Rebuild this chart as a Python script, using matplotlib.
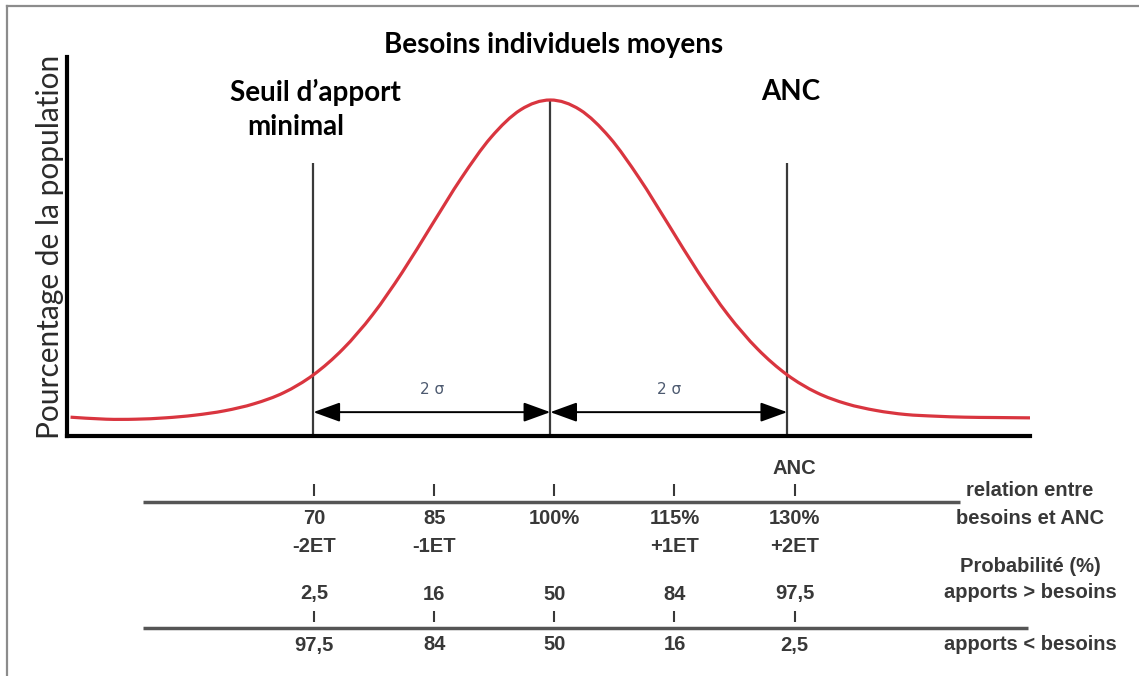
import matplotlib.pyplot as plt
from matplotlib.lines import Line2D
from matplotlib.path import Path
from matplotlib.patches import PathPatch

# curve (x in standard deviations, y in % of peak height)
curve_x = [-4.05, -3.75, -3.5, -3.25, -3.0, -2.75, -2.5, -2.25, -2.0, -1.75, -1.5, -1.25, -1.0,
           -0.75, -0.5, -0.25, 0.0, 0.25, 0.5, 0.75, 1.0, 1.25, 1.5, 1.75, 2.0, 2.25, 2.5,
           2.75, 3.0, 3.25, 3.5, 3.75, 4.05]
curve_y = [5.6, 5.0, 5.0, 5.4, 6.2, 7.5, 9.6, 12.9, 18.2, 25.9, 36.1, 48.7, 62.8,
           76.8, 88.9, 97.1, 100.0, 97.1, 88.9, 76.8, 62.8, 48.7, 36.1, 25.9, 18.2, 12.9, 9.6,
           7.6, 6.4, 5.9, 5.6, 5.5, 5.4]

# vertical markers: -2 sigma (seuil), mean, +2 sigma (ANC)
marker_x = [-2, 0, 2]
marker_top = [81.3, 100.0, 81.3]

# table under the chart
pct_values = [70, 85, 100, 115, 130]
pct_labels = ["70", "85", "100%", "115%", "130%"]
et_labels = ["-2ET", "-1ET", "", "+1ET", "+2ET"]
prob_above = ["2,5", "16", "50", "84", "97,5"]
prob_below = ["97,5", "84", "50", "16", "2,5"]


def smooth_path(xs, ys):
    # catmull-rom through the read points, drawn as cubic bezier segments
    pts = list(zip(xs, ys))
    verts = [pts[0]]
    codes = [Path.MOVETO]
    n = len(pts)
    for i in range(n - 1):
        p0 = pts[max(i - 1, 0)]
        p1 = pts[i]
        p2 = pts[i + 1]
        p3 = pts[min(i + 2, n - 1)]
        c1 = (p1[0] + (p2[0] - p0[0]) / 6, p1[1] + (p2[1] - p0[1]) / 6)
        c2 = (p2[0] - (p3[0] - p1[0]) / 6, p2[1] - (p3[1] - p1[1]) / 6)
        verts += [c1, c2, p2]
        codes += [Path.CURVE4] * 3
    return Path(verts, codes)


W, H = 1139, 676
fig = plt.figure(figsize=(W / 100, H / 100), dpi=100)

# main chart axes (pixel box 67..1030 x 57..436)
ax = fig.add_axes([67 / W, (H - 436) / H, 963 / W, 379 / H])
ax.set_xlim(-4.08, 4.05)
ax.set_ylim(0, 112.8)
ax.add_patch(PathPatch(smooth_path(curve_x, curve_y), facecolor="none",
                       edgecolor="#d9353f", lw=2.3, zorder=3))
ax.vlines(marker_x, 0, marker_top, color="#3a3a3a", lw=1.6, zorder=2)

for a, b in [(-2, 0), (0, 2)]:
    ax.annotate("", xy=(b, 7.1), xytext=(a, 7.1),
                arrowprops=dict(arrowstyle="<|-|>,head_length=1.1,head_width=0.4",
                                color="black", lw=1.4, mutation_scale=15,
                                shrinkA=0, shrinkB=0))
    ax.text((a + b) / 2, 13.7, "2 σ", ha="center", va="center", fontsize=11,
            color="#4d5a70", family="DejaVu Sans")

for s in ["top", "right"]:
    ax.spines[s].set_visible(False)
for s in ["left", "bottom"]:
    ax.spines[s].set_linewidth(3)
    ax.spines[s].set_color("black")
ax.set_xticks([])
ax.set_yticks([])
ax.set_ylabel("Pourcentage de la population", fontsize=21.5, family="Lato",
              color="#2b2b2b", labelpad=2)

bold = dict(family="Lato", fontweight="bold", fontsize=20, color="black",
            ha="center", va="center", clip_on=False)
ax.text(0.03, 116.4, "Besoins individuels moyens", **bold)
ax.text(-1.98, 102.4, "Seuil d\u2019apport", **bold)
ax.text(-2.15, 92.0, "minimal", **bold)
ax.text(2.03, 102.4, "ANC", **bold)

# table axes, x in % of needs, y in pixels
tax = fig.add_axes([0, 0, 1, 236 / H])
tax.set_xlim(30.79, 173.0)
tax.set_ylim(676, 440)
tax.axis("off")

tcol = "#383838"
tfont = dict(family="Liberation Sans", fontweight="bold", fontsize=14.5, color=tcol,
             ha="center", va="center")
tax.hlines(501.5, 48.6, 150.7, color="#555555", lw=2.5)
tax.hlines(627.5, 48.6, 159.1, color="#555555", lw=2.5)
tax.vlines(pct_values, 484, 496, color=tcol, lw=1.5)
tax.vlines(pct_values, 611, 622, color=tcol, lw=1.5)
tax.text(pct_values[-1], 469, "ANC", **tfont)
for i in range(len(pct_values)):
    tax.text(pct_values[i], 519, pct_labels[i], **tfont)
    tax.text(pct_values[i], 547, et_labels[i], **tfont)
    tax.text(pct_values[i], 594, prob_above[i], **tfont)
    tax.text(pct_values[i], 645, prob_below[i], **tfont)

rx = 159.4
tax.text(rx, 491, "relation entre", **tfont)
tax.text(rx, 518, "besoins et ANC", **tfont)
tax.text(rx, 567, "Probabilité (%)", **tfont)
tax.text(rx, 593, "apports > besoins", **tfont)
tax.text(rx, 645, "apports < besoins", **tfont)

# gray frame (top and left edges)
fig.add_artist(Line2D([7 / W, 1], [1 - 6 / H, 1 - 6 / H], color="#8c8c8c", lw=1.6))
fig.add_artist(Line2D([7 / W, 7 / W], [0, 1 - 6 / H], color="#8c8c8c", lw=1.6))

fig.savefig("out.png", dpi=100)
